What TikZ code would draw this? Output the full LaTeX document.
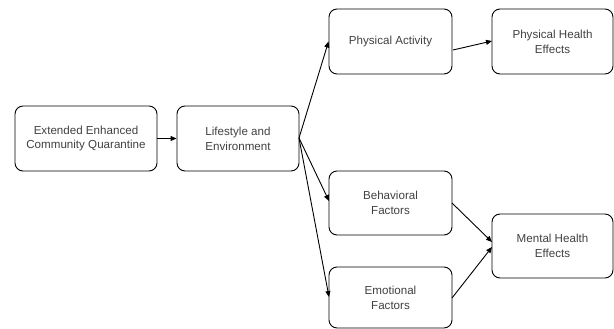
\documentclass[tikz,border=0pt]{standalone}
\usepackage{fontspec}
\setmainfont{Liberation Sans}
\usetikzlibrary{arrows.meta}
\begin{document}
\begin{tikzpicture}[x=1pt,y=-1pt,
  box/.style={draw=black, line width=0.9pt, rounded corners=8pt, text=black!75,
    font=\fontsize{11.6}{14.8}\selectfont, align=center, inner sep=0pt},
  conn/.style={draw=black, line width=0.9pt, -{Triangle[length=6pt,width=5pt]}}]
\useasboundingbox (0,0) rectangle (614,329);
\node[box, minimum width=142pt, minimum height=65pt] (ecq) at (86,138.5) {Extended Enhanced\\Community Quarantine};
\node[box, minimum width=122pt, minimum height=65pt] (life) at (238,138.5) {Lifestyle and\\Environment};
\node[box, minimum width=123pt, minimum height=65pt] (pa) at (390.5,41.5) {Physical Activity};
\node[box, minimum width=121pt, minimum height=65pt] (phe) at (552.5,41.5) {Physical Health\\Effects};
\node[box, minimum width=123pt, minimum height=64pt] (beh) at (390.5,203) {Behavioral\\Factors};
\node[box, minimum width=123pt, minimum height=61pt] (emo) at (390.5,297.5) {Emotional\\Factors};
\node[box, minimum width=121pt, minimum height=64pt] (mhe) at (552.5,246) {Mental Health\\Effects};
\coordinate (lo) at (299,138);
\coordinate (b1) at (329,201);
\coordinate (e1) at (329,297);
\coordinate (pa1) at (453,50);
\coordinate (phe1) at (492,41);
\coordinate (beh1) at (452,203);
\coordinate (mhe1) at (492,242);
\coordinate (emo1) at (452,298);
\coordinate (mhe2) at (492,247);
\draw[conn] (ecq.east) -- (life.west);
\draw[conn] (lo) -- (pa.west);
\draw[conn] (lo) -- (b1);
\draw[conn] (lo) -- (e1);
\draw[conn] (pa1) -- (phe1);
\draw[conn] (beh1) -- (mhe1);
\draw[conn] (emo1) -- (mhe2);
\end{tikzpicture}
\end{document}
